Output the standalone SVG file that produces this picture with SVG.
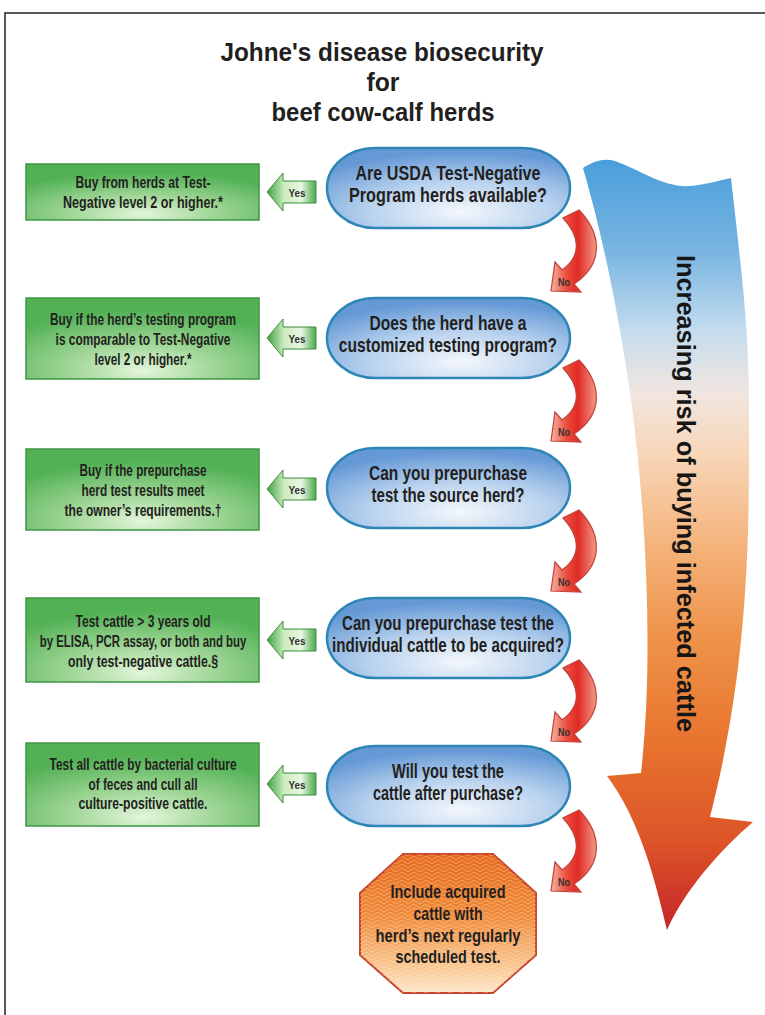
<svg xmlns="http://www.w3.org/2000/svg" width="765" height="1015" viewBox="0 0 765 1015">
<defs>
<style>
text { font-family: "Liberation Sans", Arial, sans-serif; font-weight: bold; fill: #231f20; }
.title { font-size: 26px; text-anchor: middle; }
.box { fill: url(#gBox); stroke: #3e9646; stroke-width: 1.5; }
.bt { font-size: 17px; text-anchor: middle; }
.oval { fill: url(#gOval); stroke: #2d86b6; stroke-width: 2.5; }
.ot { font-size: 20px; text-anchor: middle; }
.oct { font-size: 19px; text-anchor: middle; }
.yes { fill: url(#gYes); stroke: #3b8e3b; stroke-width: 1; }
.yt { font-size: 11px; text-anchor: middle; fill: #333; }
.no { fill: url(#gNo); stroke: #c2413a; stroke-width: 1.2; }
.nt { font-size: 11px; text-anchor: middle; fill: #333; }
.risk { font-size: 25px; fill: #161616; }
</style>
<radialGradient id="gBox" cx="0.5" cy="0.85" r="0.7" fx="0.5" fy="0.9">
<stop offset="0" stop-color="#e4f5dc"/>
<stop offset="0.45" stop-color="#9fd696"/>
<stop offset="1" stop-color="#52b155"/>
</radialGradient>
<radialGradient id="gOval" cx="0.55" cy="0.8" r="0.75">
<stop offset="0" stop-color="#f4f7fb"/>
<stop offset="0.5" stop-color="#b9d2ee"/>
<stop offset="1" stop-color="#6599d6"/>
</radialGradient>
<linearGradient id="gYes" x1="0" y1="0" x2="1" y2="0">
<stop offset="0" stop-color="#3f9f3f"/>
<stop offset="0.35" stop-color="#cdebc0"/>
<stop offset="0.7" stop-color="#e8f6e0"/>
<stop offset="1" stop-color="#4aa84a"/>
</linearGradient>
<linearGradient id="gNo" x1="0" y1="0" x2="1" y2="0">
<stop offset="0" stop-color="#f7b3a3"/>
<stop offset="0.35" stop-color="#ea4c3c"/>
<stop offset="0.6" stop-color="#e02a26"/>
<stop offset="1" stop-color="#f29a86"/>
</linearGradient>
<linearGradient id="gOct" x1="0" y1="0" x2="0" y2="1">
<stop offset="0" stop-color="#e66a1c"/>
<stop offset="0.45" stop-color="#f08c3c"/>
<stop offset="0.8" stop-color="#f9c590"/>
<stop offset="1" stop-color="#fde6cc"/>
</linearGradient>
<linearGradient id="gRisk" gradientUnits="userSpaceOnUse" x1="0" y1="160" x2="0" y2="935">
<stop offset="0" stop-color="#4a9edb"/>
<stop offset="0.12" stop-color="#7ab6e2"/>
<stop offset="0.22" stop-color="#c4dcee"/>
<stop offset="0.3" stop-color="#f0e6e0"/>
<stop offset="0.38" stop-color="#f8d6b8"/>
<stop offset="0.5" stop-color="#f4b27a"/>
<stop offset="0.62" stop-color="#ee9248"/>
<stop offset="0.75" stop-color="#e8742e"/>
<stop offset="0.88" stop-color="#dc5428"/>
<stop offset="1" stop-color="#c4222a"/>
</linearGradient>
<pattern id="zig" width="12" height="8" patternUnits="userSpaceOnUse">
<path d="M0,4 L6,0 L12,4 M0,8 L6,4 L12,8" fill="none" stroke="#fff3d8" stroke-opacity="0.35" stroke-width="1"/>
</pattern>
<path id="yesShape" d="M0,0 L16,-19 L16,-11 L49,-11 L49,11 L16,11 L16,19 Z"/>
<path id="noShape" d="M579,-38 C602,-14 604,16 574,36 L581,44 L551,43 L555,14 L562,22 C582,8 580,-12 563,-30 Z"/>
</defs>

<rect width="765" height="1015" fill="#ffffff"/>
<path d="M5,1015 L5,13 L765,13" fill="none" stroke="#222" stroke-width="1.5"/>

<g id="title">
<text class="title" x="382" y="61" textLength="323" lengthAdjust="spacingAndGlyphs">Johne's disease biosecurity</text>
<text class="title" x="383" y="91" textLength="33" lengthAdjust="spacingAndGlyphs">for</text>
<text class="title" x="383" y="121" textLength="223" lengthAdjust="spacingAndGlyphs">beef cow-calf herds</text>
</g>

<g id="risk-arrow">
<path d="M583,168 C595,160 605,158 615,161 C640,170 665,188 690,186 C705,185 720,180 731,178 C740,260 750,330 749,420 C750,560 745,680 710,817 L753,822 C720,850 685,890 667,930 C655,880 640,820 607,776 L641,773 C655,650 645,480 625,360 C612,280 598,220 583,168 Z" fill="url(#gRisk)"/>
<text class="risk" transform="translate(677,255) rotate(90)" textLength="477" lengthAdjust="spacingAndGlyphs">Increasing risk of buying infected cattle</text>
</g>

<g id="box1">
<rect class="box" x="26" y="164" width="233" height="56"/>
<text class="bt" x="143" y="188" textLength="135" lengthAdjust="spacingAndGlyphs">Buy from herds at Test-</text>
<text class="bt" x="143" y="208" textLength="160" lengthAdjust="spacingAndGlyphs">Negative level 2 or higher.*</text>
</g>
<g id="box2">
<rect class="box" x="26" y="298" width="233" height="81"/>
<text class="bt" x="143" y="325" textLength="186" lengthAdjust="spacingAndGlyphs">Buy if the herd’s testing program</text>
<text class="bt" transform="translate(143,345) scale(0.70,1)" x="0" y="0">is comparable to Test-Negative</text>
<text class="bt" x="143" y="365" textLength="97" lengthAdjust="spacingAndGlyphs">level 2 or higher.*</text>
</g>
<g id="box3">
<rect class="box" x="26" y="449" width="233" height="81"/>
<text class="bt" x="143" y="476" textLength="127" lengthAdjust="spacingAndGlyphs">Buy if the prepurchase</text>
<text class="bt" x="143" y="496" textLength="123" lengthAdjust="spacingAndGlyphs">herd test results meet</text>
<text class="bt" x="143" y="516" textLength="157" lengthAdjust="spacingAndGlyphs">the owner’s requirements.†</text>
</g>
<g id="box4">
<rect class="box" x="26" y="598" width="233" height="84"/>
<text class="bt" x="143" y="627" textLength="135" lengthAdjust="spacingAndGlyphs">Test cattle &gt; 3 years old</text>
<text class="bt" transform="translate(143,647) scale(0.67,1)" x="0" y="0">by ELISA, PCR assay, or both and buy</text>
<text class="bt" x="143" y="667" textLength="150" lengthAdjust="spacingAndGlyphs">only test-negative cattle.§</text>
</g>
<g id="box5">
<rect class="box" x="26" y="743" width="233" height="83"/>
<text class="bt" x="143" y="770" textLength="187" lengthAdjust="spacingAndGlyphs">Test all cattle by bacterial culture</text>
<text class="bt" x="143" y="790" textLength="109" lengthAdjust="spacingAndGlyphs">of feces and cull all</text>
<text class="bt" x="143" y="809" textLength="129" lengthAdjust="spacingAndGlyphs">culture-positive cattle.</text>
</g>

<g id="q1">
<rect class="oval" x="327" y="148" width="243" height="80" rx="48" ry="40"/>
<text class="ot" x="448" y="180" textLength="185" lengthAdjust="spacingAndGlyphs">Are USDA Test-Negative</text>
<text class="ot" x="448" y="202" textLength="198" lengthAdjust="spacingAndGlyphs">Program herds available?</text>
</g>
<g id="q2">
<rect class="oval" x="327" y="298" width="243" height="80" rx="48" ry="40"/>
<text class="ot" x="448" y="330" textLength="157" lengthAdjust="spacingAndGlyphs">Does the herd have a</text>
<text class="ot" transform="translate(448,352) scale(0.78,1)" x="0" y="0">customized testing program?</text>
</g>
<g id="q3">
<rect class="oval" x="327" y="448" width="243" height="80" rx="48" ry="40"/>
<text class="ot" x="448" y="480" textLength="158" lengthAdjust="spacingAndGlyphs">Can you prepurchase</text>
<text class="ot" x="448" y="502" textLength="153" lengthAdjust="spacingAndGlyphs">test the source herd?</text>
</g>
<g id="q4">
<rect class="oval" x="327" y="598" width="243" height="80" rx="48" ry="40"/>
<text class="ot" x="448" y="630" textLength="212" lengthAdjust="spacingAndGlyphs">Can you prepurchase test the</text>
<text class="ot" transform="translate(448,652) scale(0.76,1)" x="0" y="0">individual cattle to be acquired?</text>
</g>
<g id="q5">
<rect class="oval" x="327" y="746" width="243" height="80" rx="48" ry="40"/>
<text class="ot" x="448" y="778" textLength="112" lengthAdjust="spacingAndGlyphs">Will you test the</text>
<text class="ot" x="448" y="800" textLength="150" lengthAdjust="spacingAndGlyphs">cattle after purchase?</text>
</g>

<g id="final">
<polygon points="403,854 493,854 536,893 536,955 493,993 403,993 360,955 360,893" fill="url(#gOct)" stroke="#c8452c" stroke-width="2"/>
<polygon points="403,854 493,854 536,893 536,955 493,993 403,993 360,955 360,893" fill="url(#zig)"/>
<text class="oct" x="448" y="898" textLength="115" lengthAdjust="spacingAndGlyphs">Include acquired</text>
<text class="oct" x="448" y="920" textLength="69" lengthAdjust="spacingAndGlyphs">cattle with</text>
<text class="oct" x="448" y="942" textLength="145" lengthAdjust="spacingAndGlyphs">herd’s next regularly</text>
<text class="oct" x="448" y="963" textLength="105" lengthAdjust="spacingAndGlyphs">scheduled test.</text>
</g>

<g id="connectors">
<g transform="translate(267,192)"><use href="#yesShape" class="yes"/><text class="yt" x="30" y="4.5" textLength="17" lengthAdjust="spacingAndGlyphs">Yes</text></g>
<g transform="translate(267,338)"><use href="#yesShape" class="yes"/><text class="yt" x="30" y="4.5" textLength="17" lengthAdjust="spacingAndGlyphs">Yes</text></g>
<g transform="translate(267,489)"><use href="#yesShape" class="yes"/><text class="yt" x="30" y="4.5" textLength="17" lengthAdjust="spacingAndGlyphs">Yes</text></g>
<g transform="translate(267,640)"><use href="#yesShape" class="yes"/><text class="yt" x="30" y="4.5" textLength="17" lengthAdjust="spacingAndGlyphs">Yes</text></g>
<g transform="translate(267,784)"><use href="#yesShape" class="yes"/><text class="yt" x="30" y="4.5" textLength="17" lengthAdjust="spacingAndGlyphs">Yes</text></g>

<g transform="translate(0,248)"><use href="#noShape" class="no"/><text class="nt" x="564" y="38" textLength="12" lengthAdjust="spacingAndGlyphs">No</text></g>
<g transform="translate(0,398)"><use href="#noShape" class="no"/><text class="nt" x="564" y="38" textLength="12" lengthAdjust="spacingAndGlyphs">No</text></g>
<g transform="translate(0,548)"><use href="#noShape" class="no"/><text class="nt" x="564" y="38" textLength="12" lengthAdjust="spacingAndGlyphs">No</text></g>
<g transform="translate(0,698)"><use href="#noShape" class="no"/><text class="nt" x="564" y="38" textLength="12" lengthAdjust="spacingAndGlyphs">No</text></g>
<g transform="translate(0,848)"><use href="#noShape" class="no"/><text class="nt" x="564" y="38" textLength="12" lengthAdjust="spacingAndGlyphs">No</text></g>
</g>
</svg>
